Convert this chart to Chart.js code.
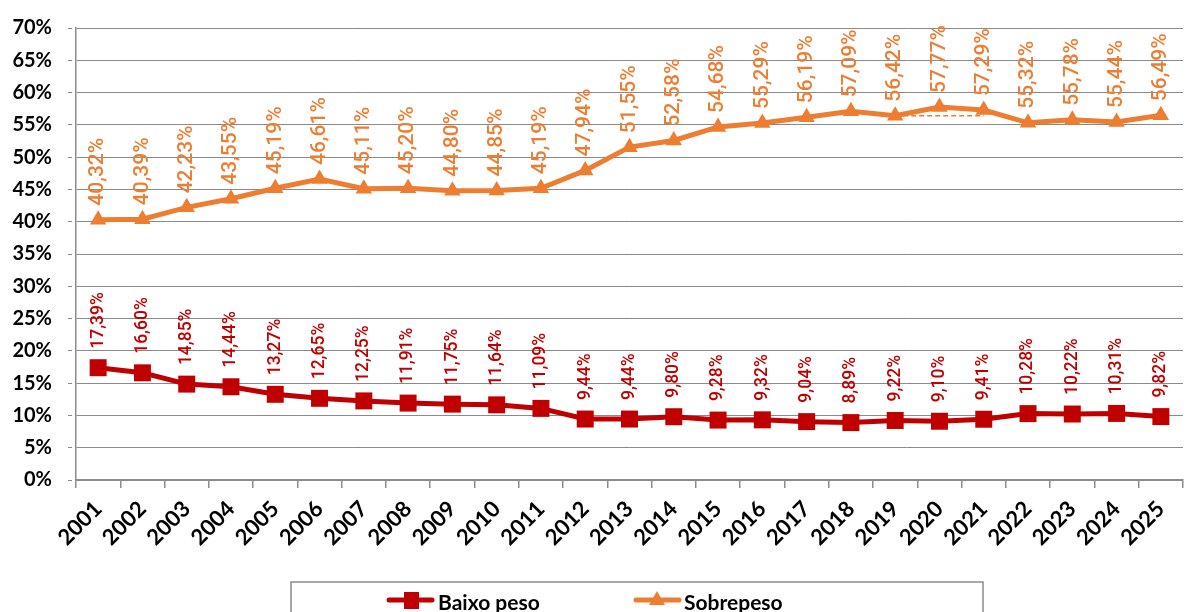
<!DOCTYPE html>
<html>
<head>
<meta charset="utf-8">
<script src="https://cdn.jsdelivr.net/npm/chart.js@4.4.0/dist/chart.umd.min.js"></script>
<style>
  html, body { margin: 0; padding: 0; background: #fff; }
  #wrap { position: relative; width: 1195px; height: 612px; }
</style>
</head>
<body>
<div id="wrap"><canvas id="c" width="1195" height="612"></canvas></div>
<script>
const years = ['2001','2002','2003','2004','2005','2006','2007','2008','2009','2010','2011','2012','2013','2014','2015','2016','2017','2018','2019','2020','2021','2022','2023','2024','2025'];
const baixoPeso = [17.39,16.60,14.85,14.44,13.27,12.65,12.25,11.91,11.75,11.64,11.09,9.44,9.44,9.80,9.28,9.32,9.04,8.89,9.22,9.10,9.41,10.28,10.22,10.31,9.82];
const sobrepeso = [40.32,40.39,42.23,43.55,45.19,46.61,45.11,45.20,44.80,44.85,45.19,47.94,51.55,52.58,54.68,55.29,56.19,57.09,56.42,57.77,57.29,55.32,55.78,55.44,56.49];
const sobrepesoGuide = [null,null,null,null,null,null,null,null,null,null,null,null,null,null,null,null,null,null,56.42,null,56.42,null,null,null,null];
const seriesNames = ['Baixo peso','Sobrepeso'];
const yTicks = [0,5,10,15,20,25,30,35,40,45,50,55,60,65,70];

const RED = '#C00000';
const ORANGE = '#ED7D31';

const fmt = v => v.toFixed(2).replace('.', ',') + '%';

const labelPlugin = {
  id: 'vlabels',
  afterDatasetsDraw(chart) {
    const ctx = chart.ctx;
    chart.data.datasets.forEach((ds, i) => {
      if (!ds.vlabel) return;
      const meta = chart.getDatasetMeta(i);
      meta.data.forEach((pt, j) => {
        const v = ds.data[j];
        if (v == null) return;
        ctx.save();
        ctx.translate(pt.x, pt.y - ds.vlabel.offset);
        ctx.rotate(-Math.PI / 2);
        ctx.font = ds.vlabel.font;
        ctx.fillStyle = ds.vlabel.color;
        ctx.textAlign = 'left';
        ctx.textBaseline = 'middle';
        ctx.fillText(fmt(v), 0, 0);
        ctx.restore();
      });
    });
  }
};

const legendPlugin = {
  id: 'boxLegend',
  afterDraw(chart) {
    const ctx = chart.ctx;
    ctx.save();
    ctx.strokeStyle = '#8c8c8c';
    ctx.lineWidth = 1.5;
    ctx.beginPath();
    ctx.moveTo(291, 614);
    ctx.lineTo(291, 582);
    ctx.lineTo(983, 582);
    ctx.lineTo(983, 614);
    ctx.stroke();
    const cy = 600;
    // Baixo peso
    ctx.strokeStyle = RED; ctx.lineWidth = 5; ctx.lineCap = 'round';
    ctx.beginPath(); ctx.moveTo(389, cy); ctx.lineTo(432, cy); ctx.stroke();
    ctx.fillStyle = RED;
    ctx.fillRect(404, cy - 8, 15, 17);
    ctx.fillStyle = '#000';
    ctx.font = 'bold 21px Lato';
    ctx.textAlign = 'left'; ctx.textBaseline = 'middle';
    ctx.fillText(seriesNames[0], 438, cy + 3);
    // Sobrepeso
    ctx.strokeStyle = ORANGE; ctx.lineWidth = 5;
    ctx.beginPath(); ctx.moveTo(636, cy); ctx.lineTo(679, cy); ctx.stroke();
    ctx.fillStyle = ORANGE;
    ctx.beginPath(); ctx.moveTo(657, cy - 9); ctx.lineTo(665, cy + 5); ctx.lineTo(649, cy + 5); ctx.closePath(); ctx.fill();
    ctx.fillStyle = '#000';
    ctx.fillText(seriesNames[1], 684, cy + 3);
    ctx.restore();
  }
};

new Chart(document.getElementById('c'), {
  type: 'line',
  data: {
    labels: years,
    datasets: [
      {
        label: seriesNames[0],
        data: baixoPeso,
        borderColor: RED,
        backgroundColor: RED,
        borderWidth: 5,
        pointStyle: 'rect',
        pointRadius: 12,
        pointHoverRadius: 12,
        pointBorderWidth: 0,
        tension: 0,
        vlabel: { offset: 19, color: RED, font: '500 17.5px Roboto' }
      },
      {
        label: seriesNames[1],
        data: sobrepeso,
        borderColor: ORANGE,
        backgroundColor: ORANGE,
        borderWidth: 5,
        pointStyle: 'triangle',
        pointRadius: 9.5,
        pointHoverRadius: 9.5,
        pointBorderWidth: 0,
        tension: 0,
        vlabel: { offset: 14, color: ORANGE, font: '500 21px Roboto' }
      },
      {
        label: 'guide',
        data: sobrepesoGuide,
        borderColor: ORANGE,
        borderWidth: 1.5,
        borderDash: [5, 3],
        pointRadius: 0,
        spanGaps: true,
        tension: 0
      }
    ]
  },
  options: {
    responsive: false,
    animation: false,
    layout: { padding: { top: 24, right: 7, left: 0, bottom: 0 } },
    plugins: {
      legend: { display: false },
      tooltip: { enabled: false }
    },
    scales: {
      x: {
        offset: true,
        grid: {
          offset: true,
          drawOnChartArea: false,
          drawTicks: true,
          tickLength: 8,
          color: '#8c8c8c',
          lineWidth: 1.5
        },
        border: { display: true, color: '#8c8c8c', width: 1.5 },
        ticks: {
          minRotation: 45,
          maxRotation: 45,
          autoSkip: false,
          padding: 8,
          color: '#000',
          font: { family: 'Lato', weight: 'bold', size: 22 }
        },
        afterFit(scale) { scale.height = 132; }
      },
      y: {
        min: 0,
        max: 70,
        afterBuildTicks(scale) { scale.ticks = yTicks.map(v => ({ value: v })); },
        grid: {
          color: '#8a8a8a',
          lineWidth: 1,
          tickLength: 8,
          drawTicks: true,
          borderDash: [4, 3],
          tickBorderDash: [4, 3]
        },
        border: { display: true, color: '#8c8c8c', width: 1.5, dash: [] },
        ticks: {
          padding: 16,
          color: '#000',
          font: { family: 'Lato', weight: 'bold', size: 20 },
          callback: v => v + '%'
        },
        afterFit(scale) { scale.width = 76; }
      }
    }
  },
  plugins: [labelPlugin, legendPlugin]
});
</script>
</body>
</html>
